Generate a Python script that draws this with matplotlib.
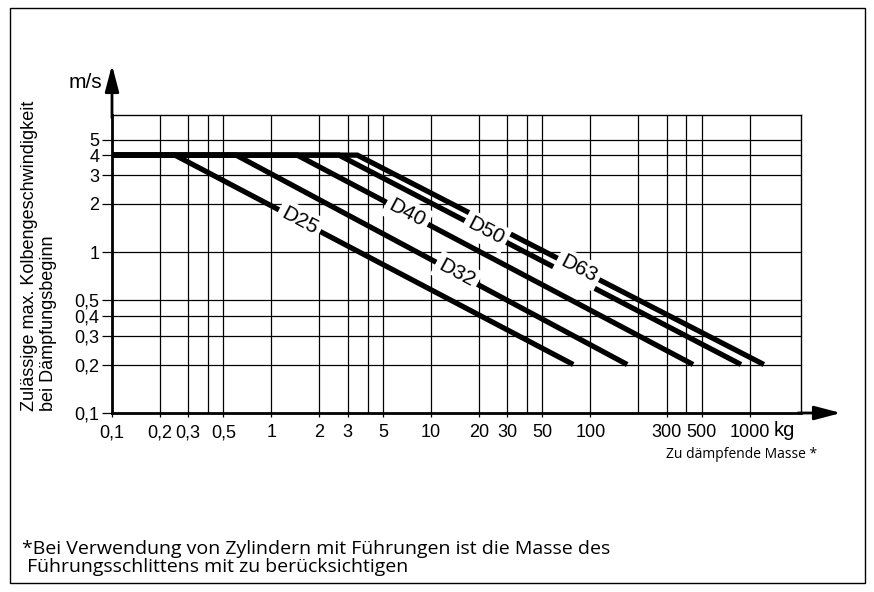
import numpy as np
import matplotlib.pyplot as plt
from matplotlib.patches import Rectangle
from matplotlib.ticker import FixedLocator, NullLocator

# ============= Daten =============
series = ['D25', 'D32', 'D40', 'D50', 'D63']
mass_start = [0.1, 0.1, 0.1, 0.1, 0.1]
mass_knee = [0.248, 0.60, 1.45, 2.65, 3.45]
mass_end = [78, 170, 440, 879, 1223]
v_max = 4.0
v_end = 0.2
label_mass = [1.5, 14.5, 7.1, 22, 84]   # wo die Beschriftung auf der Linie sitzt

x_ticks = [0.1, 0.2, 0.3, 0.5, 1, 2, 3, 5, 10, 20, 30, 50, 100, 300, 500, 1000]
x_ticklabels = ['0,1', '0,2', '0,3', '0,5', '1', '2', '3', '5', '10', '20', '30',
                '50', '100', '300', '500', '1000']
x_grid = [0.2, 0.3, 0.4, 0.5, 1, 2, 3, 4, 5, 10, 20, 30, 40, 50, 100, 200,
          300, 400, 500, 1000]
y_ticks = [0.1, 0.2, 0.3, 0.4, 0.5, 1, 2, 3, 4, 5]
y_ticklabels = ['0,1', '0,2', '0,3', '0,4', '0,5', '1', '2', '3', '4', '5']
y_grid = [0.2, 0.3, 0.4, 0.5, 1, 2, 3, 4, 5]

font_main = ['Liberation Sans', 'DejaVu Sans']
font_note = ['Open Sans', 'DejaVu Sans']

# ============= Figur =============
W, H = 874, 592
fig = plt.figure(figsize=(W / 100, H / 100), dpi=100)
ax = fig.add_axes([112 / W, 1 - 413 / H, 689 / W, 298 / H])
ax.set_xscale('log')
ax.set_yscale('log')
ax.set_xlim(0.1, 2090)
ax.set_ylim(0.1, 7.1)

for xg in x_grid:
    ax.axvline(xg, color='black', lw=0.9, zorder=1)
for yg in y_grid:
    ax.axhline(yg, color='black', lw=0.9, zorder=1)

ax.xaxis.set_major_locator(FixedLocator(x_ticks))
ax.xaxis.set_minor_locator(NullLocator())
ax.yaxis.set_major_locator(FixedLocator(y_ticks))
ax.yaxis.set_minor_locator(NullLocator())
ax.set_xticklabels(x_ticklabels, family=font_main, fontsize=13)
ax.set_yticklabels(y_ticklabels, family=font_main, fontsize=13)
ax.tick_params(axis='x', direction='out', length=3, width=0.9, pad=5)
ax.tick_params(axis='y', direction='out', length=7, width=0.9, pad=2)

for side in ['top', 'right']:
    ax.spines[side].set_linewidth(1.0)
for side in ['left', 'bottom']:
    ax.spines[side].set_linewidth(2.0)

# Kennlinien
for i, name in enumerate(series):
    xs = [mass_start[i], mass_knee[i], mass_end[i]]
    ys = [v_max, v_max, v_end]
    ax.plot(xs, ys, color='black', lw=3.8, solid_capstyle='butt',
            solid_joinstyle='miter', zorder=3)

fig.canvas.draw()
for i, name in enumerate(series):
    lx = label_mass[i]
    ly = 10 ** np.interp(np.log10(lx), np.log10([mass_knee[i], mass_end[i]]),
                         np.log10([v_max, v_end]))
    p1 = ax.transData.transform((mass_knee[i], v_max))
    p2 = ax.transData.transform((mass_end[i], v_end))
    ang = np.degrees(np.arctan2(p2[1] - p1[1], p2[0] - p1[0]))
    ax.text(lx, ly, name, rotation=ang, rotation_mode='anchor',
            ha='center', va='center', fontsize=15, family=font_main, zorder=4,
            bbox=dict(boxstyle='square,pad=0.2', facecolor='white', edgecolor='none'))

# Achsenpfeile
ax.annotate('', xy=(112 / W, 1 - 65 / H), xytext=(112 / W, 1 - 118 / H),
            xycoords='figure fraction',
            arrowprops=dict(arrowstyle='-|>,head_length=1.6,head_width=0.42',
                            color='black', lw=2.0, shrinkA=0, shrinkB=0))
ax.annotate('', xy=(841 / W, 1 - 413 / H), xytext=(798 / W, 1 - 413 / H),
            xycoords='figure fraction',
            arrowprops=dict(arrowstyle='-|>,head_length=1.6,head_width=0.42',
                            color='black', lw=2.0, shrinkA=0, shrinkB=0))

fig.text(102 / W, 1 - 83 / H, 'm/s', ha='right', va='center', fontsize=15,
         family=font_main)
fig.text(774 / W, 1 - 431 / H, 'kg', ha='left', va='center', fontsize=14.5,
         family=font_main)
fig.text(817 / W, 1 - 455 / H, 'Zu dämpfende Masse *', ha='right', va='center',
         fontsize=10, family=font_note)
fig.text(21 / W, 1 - 411 / H,
         'Zulässige max. Kolbengeschwindigkeit\nbei Dämpfungsbeginn',
         rotation=90, ha='left', va='bottom', multialignment='left',
         fontsize=13, family=font_main, linespacing=1.15)

fig.text(22 / W, 1 - 558 / H,
         '*Bei Verwendung von Zylindern mit Führungen ist die Masse des\n'
         ' Führungsschlittens mit zu berücksichtigen',
         ha='left', va='center', fontsize=14, family=font_note, linespacing=1.0)

# Rahmen
fig.patches.append(Rectangle((9.5 / W, 1 - 583 / H), 855 / W, 575 / H,
                             transform=fig.transFigure, fill=False,
                             edgecolor='black', lw=1.0))

plt.savefig('out.png', dpi=100)
